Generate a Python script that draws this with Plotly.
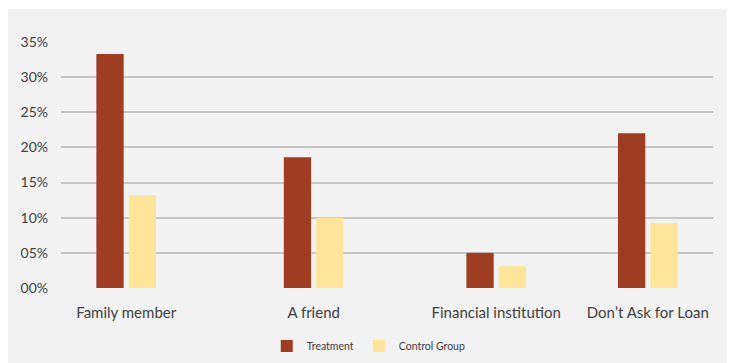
import plotly.graph_objects as go

# Loan source responses by group
categories = ["Family member", "A friend", "Financial institution", "Don\u2019t Ask for Loan"]
group_pos = [0.40, 1.55, 2.67, 3.60]
treatment = [0.333, 0.186, 0.050, 0.220]
control = [0.132, 0.100, 0.031, 0.092]
y_tickvals = [0, 0.05, 0.10, 0.15, 0.20, 0.25, 0.30, 0.35]
y_ticktext = ["00%", "05%", "10%", "15%", "20%", "25%", "30%", "35%"]

BAR_W = 0.1675
TEXT = "#404040"
FONT = "Lato"

fig = go.Figure()
fig.add_trace(go.Bar(
    name="Treatment", x=group_pos, y=treatment,
    width=BAR_W, offset=-0.183, marker=dict(color="#9e3d22", line_width=0),
))
fig.add_trace(go.Bar(
    name="Control Group", x=group_pos, y=control,
    width=BAR_W, offset=0.0155, marker=dict(color="#ffe599", line_width=0),
))

W, H = 731, 363
L, R, T, B = 61, 18, 42, 75
pw, ph = W - L - R, H - T - B

# light grey panel behind the chart
fig.add_shape(
    type="rect", xref="paper", yref="paper", layer="below",
    x0=(8 - L) / pw, x1=(727 - L) / pw,
    y0=-(B + 2) / ph, y1=(H - B - 9) / ph,
    fillcolor="#f2f2f2", line_width=0,
)

fig.update_layout(
    width=W, height=H,
    margin=dict(l=L, r=R, t=T, b=B, autoexpand=False),
    paper_bgcolor="white",
    plot_bgcolor="rgba(0,0,0,0)",
    font=dict(family=FONT, color=TEXT),
    barmode="overlay",
    showlegend=True,
    legend=dict(
        orientation="h", x=0.472, xanchor="center",
        y=-58 / ph, yanchor="middle",
        font=dict(size=10.5, color=TEXT, family=FONT),
        bgcolor="rgba(0,0,0,0)",
    ),
    xaxis=dict(
        range=[0, 4], tickvals=group_pos, ticktext=categories,
        showgrid=False, zeroline=False, showline=False, ticks="",
        tickfont=dict(size=15, color=TEXT), ticklabelstandoff=14,
    ),
    yaxis=dict(
        range=[0, 0.35], tickvals=y_tickvals, ticktext=y_ticktext,
        showgrid=True, gridcolor="#c6c6c6", gridwidth=1.6,
        zeroline=False, showline=False, ticks="",
        tickfont=dict(size=14, color=TEXT), ticklabelstandoff=12,
    ),
)

fig.write_html("out.html")
